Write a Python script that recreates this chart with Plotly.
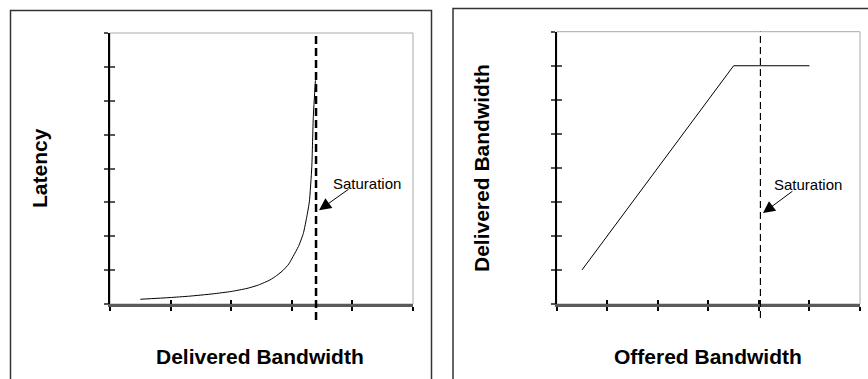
import plotly.graph_objects as go

W, H = 868, 379

# ---- data ----
delivered_bw = [0.50, 0.99, 1.30, 1.70, 2.00, 2.26, 2.45, 2.64, 2.75, 2.86, 2.95, 3.02, 3.11, 3.19, 3.25, 3.29, 3.33, 3.355, 3.39]
latency = [0.14, 0.19, 0.23, 0.30, 0.37, 0.46, 0.56, 0.71, 0.84, 1.00, 1.18, 1.40, 1.70, 2.08, 2.60, 3.02, 4.05, 5.53, 6.60]
saturation_left = 3.40

offered_bw = [0.5, 1.0, 1.5, 2.0, 2.5, 3.0, 3.5, 4.0, 4.5, 5.0]
delivered_vs_offered = [1.0, 2.0, 3.0, 4.0, 5.0, 6.0, 7.0, 7.0, 7.0, 7.0]
saturation_right = 4.03

FONT = "Arial, Liberation Sans, sans-serif"


def px_x(p):
    return p / W


def px_y(p):
    return 1 - p / H


fig = go.Figure()

fig.add_trace(go.Scatter(x=delivered_bw, y=latency, mode="lines",
                         line=dict(color="black", width=1, shape="spline", smoothing=0.5),
                         xaxis="x", yaxis="y", showlegend=False, hoverinfo="skip"))
fig.add_trace(go.Scatter(x=offered_bw, y=delivered_vs_offered, mode="lines",
                         line=dict(color="black", width=1),
                         xaxis="x2", yaxis="y2", showlegend=False, hoverinfo="skip"))
# invisible traces for overlay axes (inside half of crossing ticks)
fig.add_trace(go.Scatter(x=[None], y=[None], xaxis="x3", yaxis="y3", showlegend=False))
fig.add_trace(go.Scatter(x=[None], y=[None], xaxis="x4", yaxis="y4", showlegend=False))

left_dom_x = [px_x(110), px_x(413)]
right_dom_x = [px_x(556.7), px_x(860)]
dom_y_l = [px_y(304), px_y(33)]
dom_y_r = [px_y(304), px_y(31.7)]

def xax(dom, rng, anchor, **kw):
    d = dict(domain=dom, range=rng, dtick=1, tick0=0, showgrid=False, zeroline=False,
             showticklabels=False, anchor=anchor, fixedrange=True)
    d.update(kw)
    return d

fig.update_layout(
    width=W, height=H,
    margin=dict(l=0, r=0, t=0, b=0),
    paper_bgcolor="white", plot_bgcolor="white",
    font=dict(family=FONT, color="black"),
    xaxis=xax(left_dom_x, [0, 5], "y", showline=True, linecolor="#5a5a5a", linewidth=3,
              ticks="outside", ticklen=4, tickwidth=1.5, tickcolor="black"),
    yaxis=xax(dom_y_l, [0, 8], "x", showline=True, linecolor="black", linewidth=1.5,
              ticks="outside", ticklen=4, tickwidth=2, tickcolor="#555"),
    xaxis3=xax(left_dom_x, [0, 5], "y", overlaying="x", showline=False,
               ticks="inside", ticklen=4, tickwidth=1.5, tickcolor="black"),
    yaxis3=xax(dom_y_l, [0, 8], "x", overlaying="y", showline=False,
               ticks="inside", ticklen=5, tickwidth=2, tickcolor="#555"),
    xaxis2=xax(right_dom_x, [0, 6], "y2", showline=True, linecolor="#5a5a5a", linewidth=3,
               ticks="outside", ticklen=4, tickwidth=1.5, tickcolor="black"),
    yaxis2=xax(dom_y_r, [0, 8], "x2", showline=True, linecolor="black", linewidth=1.5,
               ticks="outside", ticklen=4, tickwidth=2, tickcolor="#555"),
    xaxis4=xax(right_dom_x, [0, 6], "y2", overlaying="x2", showline=False,
               ticks="inside", ticklen=4, tickwidth=1.5, tickcolor="black"),
    yaxis4=xax(dom_y_r, [0, 8], "x2", overlaying="y2", showline=False,
               ticks="inside", ticklen=5, tickwidth=2, tickcolor="#555"),
)

shapes = [
    # outer panel boxes
    dict(type="rect", xref="paper", yref="paper", x0=px_x(10.5), x1=px_x(431.5), y0=-0.1, y1=px_y(10.5),
         line=dict(color="#333", width=1.5)),
    dict(type="rect", xref="paper", yref="paper", x0=px_x(453), x1=1.1, y0=-0.1, y1=px_y(8.5),
         line=dict(color="#333", width=1.5)),
    # plot-area frames
    dict(type="rect", xref="x domain", yref="y domain", x0=0, x1=1, y0=0, y1=1,
         line=dict(color="#aaaaaa", width=1), layer="below"),
    dict(type="rect", xref="x2 domain", yref="y2 domain", x0=0, x1=1, y0=0, y1=1,
         line=dict(color="#aaaaaa", width=1), layer="below"),
    # saturation lines
    dict(type="line", xref="x", yref="paper", x0=saturation_left, x1=saturation_left,
         y0=px_y(320), y1=px_y(33), line=dict(color="black", width=2.5, dash="8px,4px")),
    dict(type="line", xref="x2", yref="paper", x0=saturation_right, x1=saturation_right,
         y0=px_y(318), y1=px_y(31.7), line=dict(color="black", width=1.2, dash="7px,4px")),
]
fig.update_layout(shapes=shapes)

title_font = dict(family=FONT, size=21, color="black")
annotations = [
    dict(text="<b>Latency</b>", xref="paper", yref="paper", x=px_x(39), y=px_y(168),
         textangle=-90, showarrow=False, font=title_font, xanchor="center", yanchor="middle"),
    dict(text="<b>Delivered Bandwidth</b>", xref="paper", yref="paper", x=px_x(260), y=px_y(356),
         showarrow=False, font=title_font, xanchor="center", yanchor="middle"),
    dict(text="<b>Delivered Bandwidth</b>", xref="paper", yref="paper", x=px_x(481), y=px_y(168),
         textangle=-90, showarrow=False, font=title_font, xanchor="center", yanchor="middle"),
    dict(text="<b>Offered Bandwidth</b>", xref="paper", yref="paper", x=px_x(708), y=px_y(356),
         showarrow=False, font=title_font, xanchor="center", yanchor="middle"),
    # Saturation labels
    dict(text="Saturation", xref="x", yref="y", x=4.24, y=3.57, showarrow=False,
         font=dict(family=FONT, size=15, color="black"), xanchor="center", yanchor="middle"),
    dict(text="Saturation", xref="x2", yref="y2", x=4.98, y=3.52, showarrow=False,
         font=dict(family=FONT, size=15, color="black"), xanchor="center", yanchor="middle"),
    # arrows
    dict(text="", xref="x", yref="y", x=3.45, y=2.77, showarrow=True, ax=31, ay=-22,
         arrowhead=2, arrowsize=2.4, arrowwidth=1, arrowcolor="black", standoff=0),
    dict(text="", xref="x2", yref="y2", x=4.08, y=2.67, showarrow=True, ax=31, ay=-23,
         arrowhead=2, arrowsize=2.4, arrowwidth=1, arrowcolor="black", standoff=0),
]
fig.update_layout(annotations=annotations)

fig.write_html("out.html", config={"displayModeBar": False},
               post_script="document.body.style.margin='0';document.body.style.overflow='hidden';")
